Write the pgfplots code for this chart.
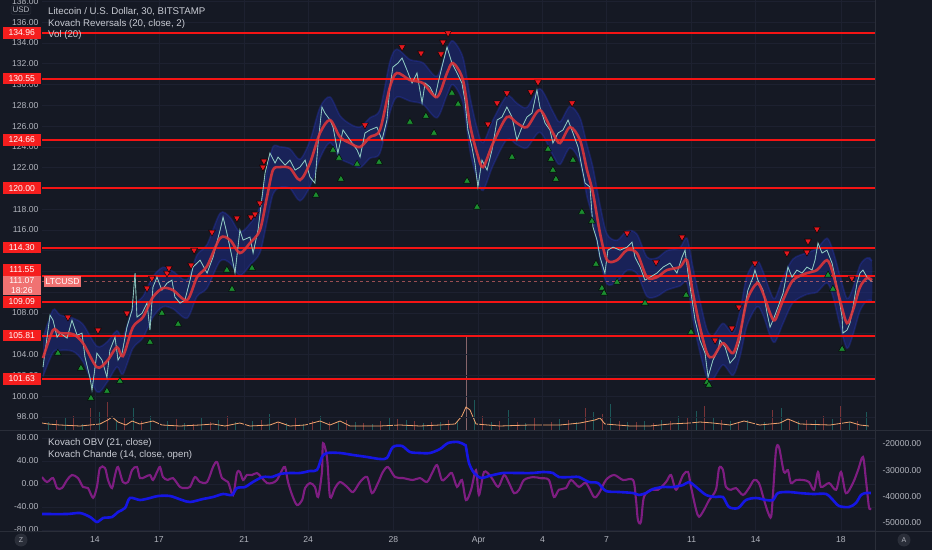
\documentclass[border=0pt]{standalone}
\usepackage{fontspec}
\setmainfont{Liberation Sans}
\usepackage{pgfplots}
\pgfplotsset{compat=1.18}
\usepackage{pgfplotstable}

\definecolor{tvbg}{HTML}{151924}
\definecolor{tvgrid}{HTML}{1D2130}
\definecolor{tvsep}{HTML}{2A2E39}
\definecolor{tvtext}{HTML}{B2B5BE}
\definecolor{tvtitle}{HTML}{C8CBD3}
\definecolor{lvl}{HTML}{F41414}
\definecolor{lvlbox}{HTML}{F51E1E}
\definecolor{cur}{HTML}{F07272}
\definecolor{mared}{HTML}{E0363A}
\definecolor{band}{HTML}{1E2C8C}
\definecolor{bandedge}{HTML}{2A3BD0}
\definecolor{price}{HTML}{62B3A8}
\definecolor{trired}{HTML}{E3181E}
\definecolor{trigreen}{HTML}{1C8C30}
\definecolor{volup}{HTML}{26A69A}
\definecolor{voldn}{HTML}{EF5350}
\definecolor{volma}{HTML}{F2A46E}
\definecolor{obv}{HTML}{1616EE}
\definecolor{chande}{HTML}{8A1E8C}

% Kovach Reversals: moving average with its band
\pgfplotstableread{
x ma up lo
11.56 103.65 105.6 101.9
12.03 106.35 108.3 104.2
12.36 106.06 107.8 104.4
12.97 105.96 107.5 104.3
13.44 105.09 106.9 103.3
14.09 102.78 104.8 100.4
14.56 103.36 105.2 101.3
15.03 104.71 106.3 102.8
15.31 103.84 105.6 102.1
15.78 106.64 108.6 104.6
16.25 107.60 109.6 105.6
16.72 109.53 111.5 107.6
17.19 110.39 112.4 108.6
17.66 110.20 112.0 108.4
18.32 109.24 111.2 107.5
18.79 111.45 113.6 109.6
19.26 112.51 114.6 110.4
19.87 115.21 117.6 113.0
20.34 115.02 117.2 112.8
20.80 113.77 115.8 111.6
21.27 114.73 116.6 112.6
21.74 115.98 118.2 113.8
22.07 119.16 121.6 116.8
22.35 121.76 124.0 119.4
22.68 122.05 124.0 120.1
23.15 121.95 123.8 120.0
23.62 120.80 122.8 118.8
24.09 122.44 124.6 120.2
24.56 125.33 127.8 122.9
25.03 126.58 128.8 124.4
25.50 124.94 127.0 122.9
25.97 124.36 126.2 122.4
26.44 123.98 125.9 122.0
26.90 124.94 126.8 122.9
27.37 125.62 127.6 123.4
27.84 129.76 132.2 127.3
28.17 131.11 133.4 128.8
28.78 130.43 132.4 128.4
29.39 130.14 132.1 128.1
30.05 128.79 130.8 126.8
30.52 131.11 133.4 129.0
30.80 132.07 134.2 130.0
31.27 130.43 132.6 128.2
31.60 126.10 128.8 123.6
31.93 123.40 125.8 121.0
32.21 122.05 124.4 119.8
32.68 124.36 126.6 122.2
33.33 126.87 128.9 124.7
33.80 126.29 128.2 124.2
34.27 125.90 127.8 123.9
34.88 127.54 129.6 125.4
35.49 125.33 127.4 123.2
35.82 124.36 126.4 122.3
36.29 125.90 127.9 123.9
36.76 124.65 126.8 122.5
37.09 121.76 124.2 119.2
37.37 119.55 122.0 117.0
37.70 115.69 118.4 113.2
38.03 113.09 115.6 110.8
38.50 113.09 115.0 111.0
38.96 114.05 115.9 112.1
39.43 113.77 115.6 111.8
39.90 111.45 113.4 109.6
40.37 111.45 113.3 109.6
40.84 112.13 114.0 110.2
41.45 112.42 114.3 110.6
41.78 113.09 115.2 110.9
42.06 109.91 112.4 107.4
42.39 106.64 109.2 104.2
42.72 104.13 106.4 101.8
43.00 103.75 105.8 101.6
43.47 105.09 107.0 103.0
43.94 104.13 106.1 102.0
44.27 106.06 108.2 103.8
44.60 109.24 111.6 106.8
45.07 110.87 113.0 108.6
45.35 109.91 112.0 107.8
45.68 107.98 110.1 105.8
45.91 107.31 109.4 105.2
46.29 109.24 111.4 107.0
46.76 111.16 113.2 109.0
47.41 111.84 113.8 109.8
47.88 112.13 114.2 110.0
48.35 113.09 115.2 110.9
48.63 111.84 114.0 109.6
48.96 109.24 111.6 106.8
49.29 107.02 109.4 104.6
49.57 108.27 110.4 105.9
49.90 110.49 112.6 108.2
50.23 111.36 113.3 109.2
50.46 111.16 113.0 109.2
}\matab

% band outline: upper edge left to right, lower edge right to left
\pgfplotstableread{
x y
11.56 105.6
12.03 108.3
12.36 107.8
12.97 107.5
13.44 106.9
14.09 104.8
14.56 105.2
15.03 106.3
15.31 105.6
15.78 108.6
16.25 109.6
16.72 111.5
17.19 112.4
17.66 112.0
18.32 111.2
18.79 113.6
19.26 114.6
19.87 117.6
20.34 117.2
20.80 115.8
21.27 116.6
21.74 118.2
22.07 121.6
22.35 124.0
22.68 124.0
23.15 123.8
23.62 122.8
24.09 124.6
24.56 127.8
25.03 128.8
25.50 127.0
25.97 126.2
26.44 125.9
26.90 126.8
27.37 127.6
27.84 132.2
28.17 133.4
28.78 132.4
29.39 132.1
30.05 130.8
30.52 133.4
30.80 134.2
31.27 132.6
31.60 128.8
31.93 125.8
32.21 124.4
32.68 126.6
33.33 128.9
33.80 128.2
34.27 127.8
34.88 129.6
35.49 127.4
35.82 126.4
36.29 127.9
36.76 126.8
37.09 124.2
37.37 122.0
37.70 118.4
38.03 115.6
38.50 115.0
38.96 115.9
39.43 115.6
39.90 113.4
40.37 113.3
40.84 114.0
41.45 114.3
41.78 115.2
42.06 112.4
42.39 109.2
42.72 106.4
43.00 105.8
43.47 107.0
43.94 106.1
44.27 108.2
44.60 111.6
45.07 113.0
45.35 112.0
45.68 110.1
45.91 109.4
46.29 111.4
46.76 113.2
47.41 113.8
47.88 114.2
48.35 115.2
48.63 114.0
48.96 111.6
49.29 109.4
49.57 110.4
49.90 112.6
50.23 113.3
50.46 113.0
50.46 109.2
50.23 109.2
49.90 108.2
49.57 105.9
49.29 104.6
48.96 106.8
48.63 109.6
48.35 110.9
47.88 110.0
47.41 109.8
46.76 109.0
46.29 107.0
45.91 105.2
45.68 105.8
45.35 107.8
45.07 108.6
44.60 106.8
44.27 103.8
43.94 102.0
43.47 103.0
43.00 101.6
42.72 101.8
42.39 104.2
42.06 107.4
41.78 110.9
41.45 110.6
40.84 110.2
40.37 109.6
39.90 109.6
39.43 111.8
38.96 112.1
38.50 111.0
38.03 110.8
37.70 113.2
37.37 117.0
37.09 119.2
36.76 122.5
36.29 123.9
35.82 122.3
35.49 123.2
34.88 125.4
34.27 123.9
33.80 124.2
33.33 124.7
32.68 122.2
32.21 119.8
31.93 121.0
31.60 123.6
31.27 128.2
30.80 130.0
30.52 129.0
30.05 126.8
29.39 128.1
28.78 128.4
28.17 128.8
27.84 127.3
27.37 123.4
26.90 122.9
26.44 122.0
25.97 122.4
25.50 122.9
25.03 124.4
24.56 122.9
24.09 120.2
23.62 118.8
23.15 120.0
22.68 120.1
22.35 119.4
22.07 116.8
21.74 113.8
21.27 112.6
20.80 111.6
20.34 112.8
19.87 113.0
19.26 110.4
18.79 109.6
18.32 107.5
17.66 108.4
17.19 108.6
16.72 107.6
16.25 105.6
15.78 104.6
15.31 102.1
15.03 102.8
14.56 101.3
14.09 100.4
13.44 103.3
12.97 104.3
12.36 104.4
12.03 104.2
11.56 101.9
}\bandtab

% 30-minute price path
\pgfplotstableread{
x p
11.56 102.78
11.89 107.79
12.03 107.31
12.22 105.67
12.36 106.06
12.69 105.58
12.92 107.31
13.16 105.86
13.39 106.06
13.53 103.75
13.77 101.72
13.86 100.57
14.09 104.13
14.33 103.46
14.56 101.82
14.70 104.42
14.94 105.67
15.08 103.46
15.27 104.13
15.50 106.64
15.74 108.27
15.88 111.84
15.97 107.60
16.21 107.98
16.44 108.95
16.58 106.35
16.72 110.49
16.91 111.45
17.14 110.20
17.38 110.87
17.61 111.16
17.75 109.53
17.99 108.95
18.22 109.24
18.46 111.16
18.60 112.42
18.93 113.09
19.26 111.84
19.54 113.38
19.87 115.98
20.01 117.23
20.19 115.69
20.43 113.38
20.57 111.84
20.80 115.98
20.95 115.02
21.27 115.31
21.42 113.77
21.65 115.98
21.84 119.16
21.98 121.47
22.21 123.40
22.45 122.44
22.59 123.01
22.92 122.24
23.15 122.72
23.39 121.76
23.62 122.05
23.86 122.72
24.09 121.09
24.32 120.51
24.47 124.36
24.65 127.83
24.79 127.25
25.03 126.58
25.17 125.90
25.40 123.40
25.64 125.62
25.97 124.65
26.30 123.69
26.44 123.01
26.67 125.33
26.90 125.62
27.23 125.90
27.47 124.65
27.70 126.58
27.84 129.76
27.98 131.68
28.22 132.07
28.41 132.55
28.64 131.40
28.88 130.14
29.11 131.11
29.35 128.22
29.49 130.14
29.72 129.76
29.96 128.79
30.10 130.14
30.28 131.68
30.52 133.61
30.75 132.07
30.99 131.11
31.22 130.14
31.36 128.49
31.50 125.62
31.69 123.98
31.83 122.44
31.97 120.13
32.16 122.72
32.40 121.76
32.63 123.69
32.87 126.58
33.10 126.87
33.33 127.83
33.57 126.87
33.80 124.65
34.04 125.90
34.27 126.87
34.51 127.25
34.74 129.47
34.88 127.83
35.12 126.29
35.35 125.62
35.49 124.36
35.73 125.33
35.96 125.62
36.20 126.58
36.43 125.33
36.67 123.98
36.85 122.05
37.00 120.51
37.23 120.13
37.37 116.27
37.56 115.02
37.70 113.38
37.93 111.84
38.07 114.05
38.31 114.34
38.64 114.05
38.97 114.34
39.20 114.82
39.34 113.38
39.58 112.42
39.81 111.16
40.05 111.45
40.37 111.84
40.66 112.42
40.98 112.80
41.31 111.84
41.55 113.38
41.69 114.05
41.83 111.84
42.02 109.24
42.16 107.31
42.39 105.38
42.63 104.13
42.77 101.82
43.00 103.46
43.24 104.42
43.33 105.38
43.57 104.71
43.80 103.17
44.04 103.75
44.27 105.38
44.41 107.60
44.64 110.20
44.88 111.45
44.97 112.13
45.11 111.16
45.35 110.20
45.54 107.98
45.68 106.64
45.82 107.31
46.05 108.56
46.29 109.91
46.52 112.42
46.71 111.45
46.94 112.13
47.18 111.84
47.41 112.42
47.65 112.13
47.79 113.09
47.93 114.73
48.12 113.77
48.35 114.05
48.59 112.80
48.73 111.45
48.87 109.91
49.06 107.60
49.10 106.06
49.29 106.35
49.43 107.02
49.57 108.56
49.76 110.87
49.90 111.84
50.04 112.13
50.23 111.45
50.37 111.16
50.46 111.07
}\pricetab

\pgfplotsset{
  tvax/.style={
    scale only axis, width=833pt,
    xmin=11.513, xmax=50.605,
    axis line style={draw=none},
    major tick length=0pt, tick style={draw=none},
    ticklabel style={font=\fontsize{8.6}{10}\selectfont, text=tvtext},
    /pgf/number format/assume math mode=true,
    /pgf/number format/1000 sep={},
    scaled ticks=false,
    grid style={tvgrid, line width=0.6pt},
    xtick={14,17,21,24,28,32,35,38,42,45,49},
  }
}

\begin{document}
\begin{tikzpicture}
\fill[tvbg] (0,0) rectangle (932pt,550pt);

% volume, bottom of the price pane
\begin{axis}[tvax, at={(42pt,120pt)}, anchor=south west, height=430pt,
  ymin=0, ymax=430, ytick=\empty, xticklabels={}]
\addplot[ycomb, volup, opacity=0.45, line width=0.8pt] table {
11.8 8
12.6 12
13.4 6
14.2 18
15.0 10
15.8 22
16.6 14
17.4 9
18.2 7
19.0 12
19.8 10
20.6 8
21.4 9
22.2 16
23.0 7
23.8 6
24.6 14
25.4 9
26.2 8
27.0 6
27.8 12
28.6 10
29.4 7
30.2 8
31.0 9
31.8 30
32.6 8
33.4 20
34.2 7
35.0 9
35.8 11
36.6 8
37.4 18
38.2 26
39.0 8
39.8 9
40.6 10
41.4 14
42.2 19
43.0 12
43.8 9
44.6 10
45.4 8
46.2 22
47.0 9
47.8 10
48.6 11
49.4 8
50.2 18
};
\addplot[ycomb, voldn, opacity=0.45, line width=0.8pt] table {
12.2 10
13.0 14
13.8 22
14.6 28
15.4 12
16.2 9
17.0 8
17.8 11
18.6 6
19.4 8
20.2 14
21.0 7
21.8 10
22.6 8
23.4 12
24.2 9
25.0 8
25.8 10
26.6 7
27.4 9
28.2 11
29.0 9
29.8 8
30.6 10
32.2 14
33.0 9
33.8 8
34.6 12
35.4 8
36.2 10
37.0 22
37.8 16
38.6 9
39.4 8
40.2 7
41.0 9
41.8 12
42.6 24
43.4 10
44.2 8
45.0 9
45.8 20
46.6 11
47.4 10
48.2 14
49.0 24
49.8 9
};
\addplot[ycomb, white!55!voldn, opacity=0.5, line width=0.7pt] coordinates {(31.41,95)};
\addplot[volma, line width=0.8pt] table {
11.51 7
11.80 6
12.36 5
13.30 4
14.23 6
14.60 10
14.80 13
15.08 8
15.45 5
15.74 9
16.10 6
16.72 9
17.14 5
17.99 4
18.93 5
19.54 6
20.10 4
20.80 7
21.27 4
22.21 5
22.59 8
23.15 4
23.86 5
24.56 9
25.03 5
25.50 9
25.97 4
27.37 4
28.31 5
29.25 4
30.19 5
30.90 6
31.22 14
31.41 23
31.60 20
31.88 6
33.00 4
34.41 5
35.82 5
36.76 7
37.46 10
37.70 12
37.93 6
39.11 4
40.05 4
40.98 6
41.92 7
42.39 8
43.00 7
43.80 5
44.46 9
45.20 5
46.15 7
46.52 11
47.09 6
48.50 5
49.43 8
49.90 5
50.32 4
};
\end{axis}

% price pane
\begin{axis}[tvax, at={(42pt,120pt)}, anchor=south west, height=430pt,
  ymin=96.73, ymax=138.14,
  ytick={98,100,...,138},
  yticklabel={\pgfmathprintnumber[fixed,fixed zerofill,precision=2]{\tick}},
  xticklabels={},
  xmajorgrids, ymajorgrids]
\addplot[draw=none, fill=band, fill opacity=0.5, smooth] table[x=x, y=y] {\bandtab};
\addplot[bandedge, line width=1.6pt, opacity=0.28, smooth] table[x=x, y=up] {\matab};
\addplot[bandedge, line width=1.6pt, opacity=0.28, smooth] table[x=x, y=lo] {\matab};

\pgfplotsinvokeforeach{134.96,130.55,124.66,120.00,114.30,111.55,109.09,105.81,101.63}{
  \addplot[lvl, line width=2pt] coordinates {(11.513,#1) (50.605,#1)};
}
\addplot[cur, line width=0.6pt, opacity=0.6, dashed] coordinates {(11.513,111.07) (50.605,111.07)};

\addplot[price, line width=0.9pt, opacity=0.9] table[x=x, y=p] {\pricetab};
\addplot[white, line width=0.35pt, opacity=0.55] table[x=x, y=p] {\pricetab};
\addplot[mared, line width=2.6pt, opacity=0.88, smooth] table[x=x, y=ma] {\matab};

% reversal marks
\addplot[only marks, mark=triangle*, mark size=4pt,
  mark options={fill=trired, draw=none, rotate=180}] table {
12.73 107.60
14.14 106.35
15.50 107.98
16.44 110.39
16.67 111.36
17.38 111.84
17.47 112.32
18.51 112.61
18.65 114.05
19.49 115.79
20.66 117.14
21.32 117.23
21.51 117.52
21.74 118.58
21.88 122.05
21.93 122.63
26.67 126.10
28.41 133.61
29.30 133.03
30.24 132.94
30.33 134.09
30.57 134.96
32.44 126.19
32.87 128.22
33.33 129.18
34.46 129.28
34.79 130.24
36.39 128.22
38.97 115.69
40.33 112.90
41.55 115.31
43.10 105.38
43.89 106.54
44.22 108.56
44.97 112.80
46.47 113.77
47.41 113.86
47.46 114.92
47.88 116.08
49.52 111.36
};
\addplot[only marks, mark=triangle*, mark size=4pt,
  mark options={fill=trigreen, draw=none}] table {
12.26 104.13
13.34 102.69
13.81 99.80
14.56 100.47
15.17 101.43
16.58 105.19
17.14 107.98
17.90 106.93
20.19 112.13
20.43 110.30
21.37 112.32
24.37 119.35
25.17 123.69
25.45 122.92
25.54 120.89
26.30 122.34
27.33 122.53
28.78 126.39
29.53 126.96
29.91 125.33
30.75 129.18
31.04 128.12
31.46 120.70
31.93 118.20
33.57 123.01
35.26 123.78
35.40 122.82
35.49 121.76
35.63 120.89
36.43 122.72
36.85 117.72
37.32 116.85
37.51 112.71
37.79 110.39
37.89 109.91
38.50 110.97
39.81 108.95
41.74 109.72
41.97 106.15
42.72 101.34
42.81 101.05
48.40 111.65
48.63 110.30
49.06 104.52
};
\end{axis}

% indicator pane: Chande on the left scale
\begin{axis}[tvax, at={(42pt,19pt)}, anchor=south west, height=100pt,
  ymin=-81.7, ymax=92.2,
  ytick={-80,-40,0,40,80},
  yticklabel={\pgfmathprintnumber[fixed,fixed zerofill,precision=2]{\tick}},
  xticklabels={14,17,21,24,28,Apr,4,7,11,14,18},
  xticklabel style={yshift=-2pt},
  xmajorgrids, ymajorgrids]
\addplot[chande, line width=2.1pt, opacity=0.9, smooth] table {
11.51 12.2
11.75 3.5
12.03 10.4
12.22 -7
12.45 -7
12.69 7
12.92 15.7
13.20 10.4
13.44 -5.2
13.67 -7
13.91 -24
14.09 -5
14.23 27.8
14.47 27.8
14.61 7
14.80 -7
14.94 15.7
15.08 29.6
15.31 3.5
15.55 3.5
15.74 24.3
15.97 29.6
16.11 10.4
16.35 12.2
16.58 15.7
16.72 7
16.91 20.9
17.05 29.6
17.19 12.2
17.42 7
17.66 10.4
17.99 -5.2
18.22 -7
18.46 -5
18.69 12.2
18.93 3.5
19.26 3.5
19.54 29.6
19.73 38
19.96 10.4
20.24 3.5
20.48 -19
20.66 19
20.80 21
20.95 7
21.13 15.7
21.37 15.7
21.60 19
21.84 10.4
22.07 1.7
22.31 1.7
22.54 7
22.78 24.3
22.92 29.6
23.06 3.5
23.25 -19
23.48 -36.5
23.72 -28
23.86 -7
24.09 1.7
24.32 -5
24.47 -22.6
24.65 20.9
24.70 71
24.89 45
25.03 -22.6
25.26 -7
25.50 3.5
25.83 -5
26.11 -14
26.44 3.5
26.77 12.2
27.00 -16
27.28 1.7
27.51 20.9
27.75 29.6
28.08 12.2
28.45 10.4
28.92 7
29.25 10.4
29.58 3.5
29.82 19
30.05 33
30.28 7
30.52 12.2
30.75 19
30.99 -5
31.22 7
31.41 -28
31.65 -10
31.88 24
32.02 -19
32.26 21
32.59 12
32.92 -5
33.20 15.7
33.43 1.7
33.67 -16
33.90 -10
34.13 7
34.55 12
34.93 10
35.30 7
35.54 -22.6
35.77 -10
36.10 -7
36.34 7
36.71 -5
37.04 1.7
37.42 -22.6
37.65 -16
37.98 7
38.36 15.7
38.78 7
39.25 7
39.39 -28
39.48 -62.6
39.62 -66
39.76 -22.6
40.09 -10
40.42 -10
40.80 3.5
41.03 15.7
41.27 -10
41.60 15.7
41.83 21
41.97 -5
42.21 -45
42.35 -57
42.58 -45
42.82 -28
43.14 -10
43.29 27.8
43.47 24.3
43.61 -5
43.85 -10
44.08 -7
44.41 -19
44.69 -7
44.93 7
45.16 1.7
45.40 -28
45.59 -50
45.73 -57
45.82 -16
45.96 59
46.10 64
46.33 21
46.52 24
46.66 1.7
46.90 7
47.23 7
47.51 3.5
47.74 -10
47.93 21
48.07 -5
48.45 1.7
48.78 -10
49.01 21
49.24 -16
49.57 1.7
49.81 24.3
50.04 47
50.18 7
50.32 -40
50.41 -42
};
\end{axis}

% indicator pane: OBV on the right scale
\begin{axis}[tvax, at={(42pt,19pt)}, anchor=south west, height=100pt,
  ymin=-53077, ymax=-15057,
  ytick={-50000,-40000,-30000,-20000},
  yticklabel pos=right,
  yticklabel={\pgfmathprintnumber[fixed,fixed zerofill,precision=2]{\tick}},
  yticklabel style={xshift=4pt},
  xticklabels={}]
\addplot[obv, line width=2.6pt, opacity=0.95, smooth] table {
11.51 -46614
12.69 -46614
13.30 -46234
13.77 -47755
14.09 -49656
14.38 -48135
14.80 -47755
15.08 -45854
15.41 -44333
15.64 -40531
16.11 -41291
16.58 -40531
16.96 -39770
17.52 -39770
18.08 -41291
18.46 -42052
19.07 -40911
19.54 -40151
20.01 -39010
20.43 -39390
20.66 -36729
21.04 -36349
21.41 -34448
21.88 -32547
22.31 -32547
22.68 -31406
23.15 -31026
23.62 -31026
24.09 -30265
24.42 -29885
24.65 -24943
24.89 -23422
25.50 -23422
26.11 -24182
26.77 -24943
27.37 -25703
27.70 -25323
27.98 -21141
28.41 -20760
28.78 -23042
29.25 -23422
29.72 -23422
30.19 -21901
30.57 -19620
31.04 -19240
31.36 -20380
31.41 -21141
31.55 -27224
31.79 -31026
32.12 -32927
32.49 -32166
33.15 -31026
33.76 -31026
34.55 -31026
35.02 -30646
35.49 -31026
35.77 -32547
36.43 -32547
36.71 -32547
37.18 -34448
37.60 -34828
37.98 -37869
38.59 -38250
39.25 -38630
39.53 -39390
39.86 -38630
40.19 -37109
40.66 -36349
41.13 -36349
41.60 -35588
41.88 -34448
42.21 -36349
42.68 -39390
43.14 -40151
43.47 -40151
43.75 -43953
44.18 -44333
44.55 -41291
45.02 -40531
45.49 -41291
45.82 -41291
46.05 -38630
46.57 -38250
47.04 -38630
47.70 -39010
48.31 -39010
48.63 -41291
48.92 -43572
49.39 -43953
49.71 -42432
49.95 -39390
50.18 -38630
50.41 -38630
};
\end{axis}

% pane separators
\draw[tvsep, line width=0.8pt] (0,119.5pt) -- (932pt,119.5pt);
\draw[tvsep, line width=0.5pt] (0,19pt) -- (932pt,19pt);
\draw[tvsep, line width=0.5pt] (875pt,0) -- (875pt,550pt);

% price level labels (positions follow the price scale of the upper pane)
\begin{scope}[every node/.style={text=white, font=\fontsize{8.6}{10}\selectfont}]
\node[fill=cur, anchor=north east, minimum width=38pt, inner sep=1.5pt, align=center]
  at (41pt,274.5pt) {111.07\\18:26};
\node[fill=cur, anchor=west, inner sep=2pt, minimum height=11pt] at (43.5pt,268.6pt) {LTCUSD};
\foreach \yy/\t in {517.2/134.96,471.4/130.55,410.2/124.66,361.9/120.00,302.7/114.30,280.0/111.55,248.2/109.09,214.6/105.81,171.2/101.63}{
  \node[fill=lvlbox, anchor=east, minimum width=38pt, minimum height=11.5pt, inner sep=1pt]
    at (41pt,\yy pt) {\t};
}
\end{scope}
\node[fill=tvbg, draw=tvsep, rounded corners=1.5pt, text=tvtext, font=\fontsize{8}{9}\selectfont,
  inner sep=1.5pt] at (21pt,540pt) {USD};

% legends
\begin{scope}[every node/.style={anchor=west, text=tvtitle, font=\fontsize{9.7}{11}\selectfont, inner sep=0pt}]
\node at (48pt,538pt) {Litecoin / U.S. Dollar, 30, BITSTAMP};
\node at (48pt,526.5pt) {Kovach Reversals (20, close, 2)};
\node at (48pt,515pt) {Vol (20)};
\node at (48pt,107pt) {Kovach OBV (21, close)};
\node at (48pt,95.5pt) {Kovach Chande (14, close, open)};
\end{scope}

\node[circle, fill=tvsep, text=tvtext, font=\fontsize{7}{8}\selectfont, minimum size=13pt, inner sep=0pt] at (21pt,10pt) {Z};
\node[circle, fill=tvsep, text=tvtext, font=\fontsize{7}{8}\selectfont, minimum size=13pt, inner sep=0pt] at (904pt,10pt) {A};

\pgfresetboundingbox
\path[use as bounding box] (0,0) rectangle (932pt,550pt);
\end{tikzpicture}
\end{document}
